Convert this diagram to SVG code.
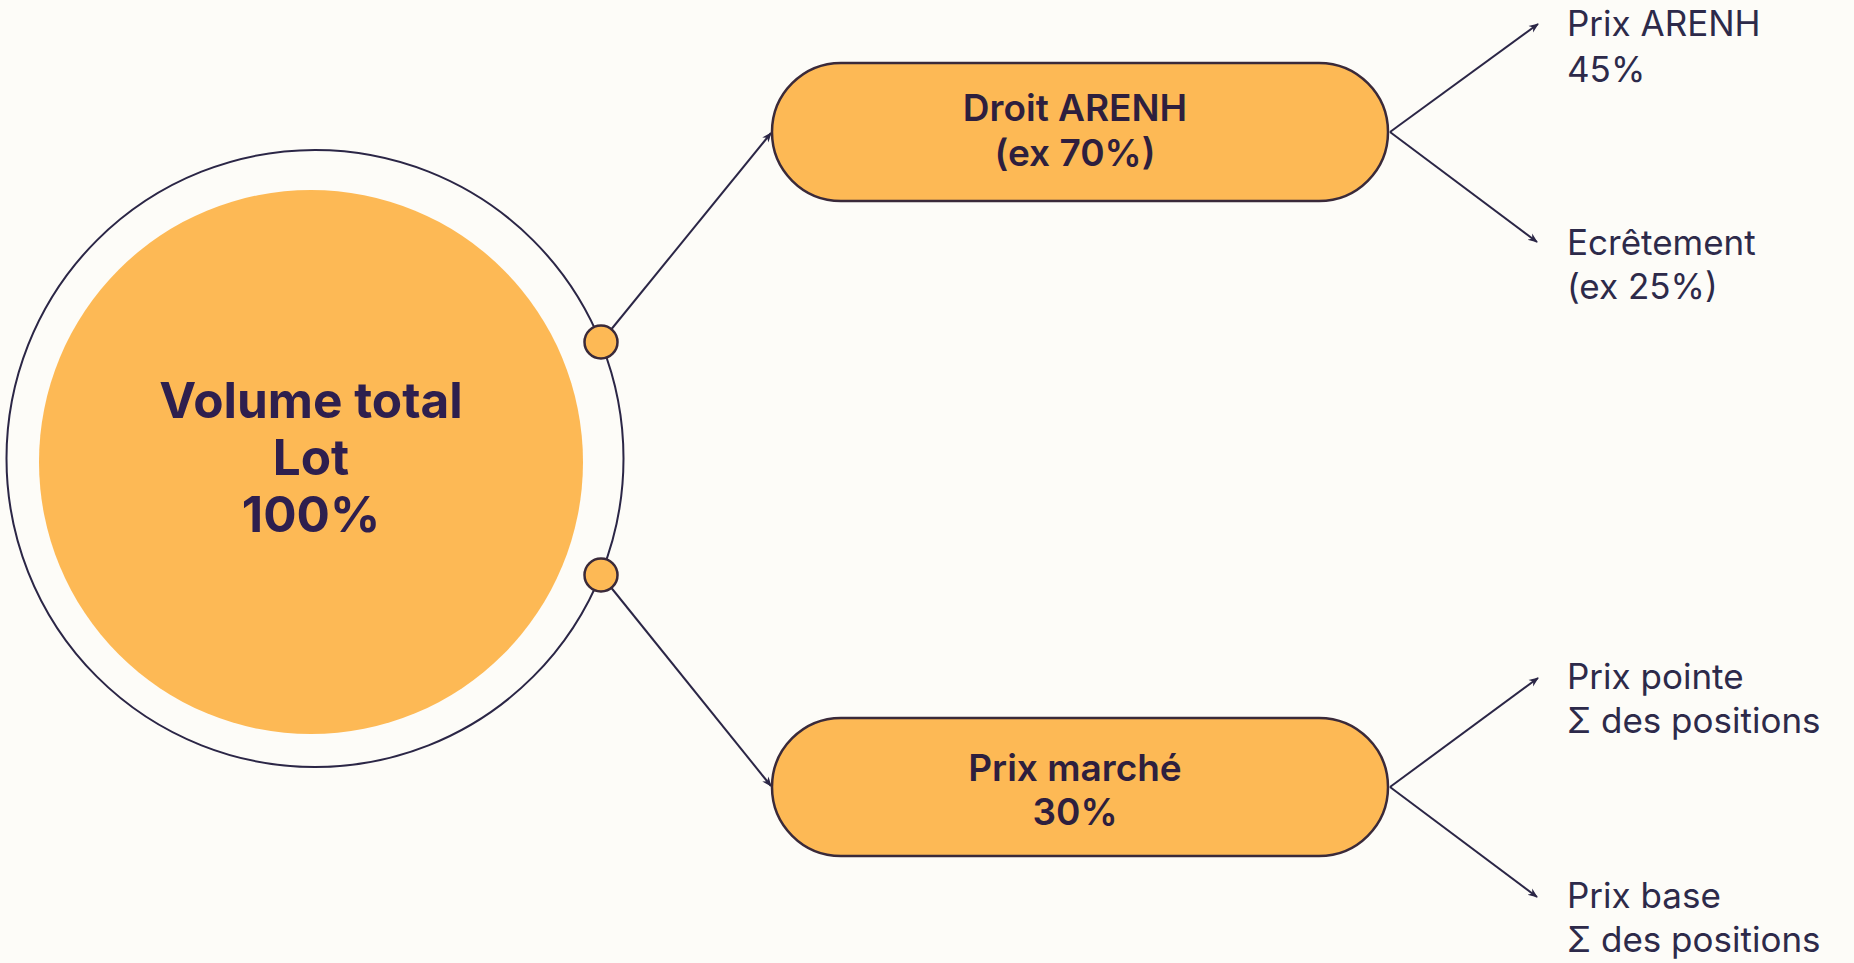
<svg xmlns="http://www.w3.org/2000/svg" width="1854" height="963" viewBox="0 0 1854 963">
  <style>
    .bg { fill: #fdfcf8; }
    .ring { fill: none; stroke: #2b2646; stroke-width: 2; }
    .fill { fill: #fdb955; }
    .pill { fill: #fdb955; stroke: #3a2a3a; stroke-width: 2.5; }
    .dot { fill: #fdb955; stroke: #3a2a3a; stroke-width: 2.5; }
    .conn { fill: none; stroke: #2b2646; stroke-width: 2; }
    .big { font-family: Inter, "Liberation Sans", sans-serif; font-weight: 700; font-size: 49.5px; fill: #2e1f4e; text-anchor: middle; }
    .mid { font-family: Inter, "Liberation Sans", sans-serif; font-weight: 600; font-size: 37px; fill: #2e1f3e; text-anchor: middle; }
    .lbl { font-family: Inter, "Liberation Sans", sans-serif; font-weight: 400; font-size: 35px; fill: #2d2a4a; }
  </style>
  <defs>
    <marker id="arr" viewBox="0 0 10 10" refX="9" refY="5" markerWidth="5" markerHeight="5" markerUnits="strokeWidth" orient="auto">
      <path d="M0,1 L10,5 L0,9 L3,5 Z" fill="#2b2646"/>
    </marker>
  </defs>
  <rect class="bg" x="0" y="0" width="1854" height="963"/>

  <g id="connectors">
    <line class="conn" x1="601" y1="342" x2="771" y2="133" marker-end="url(#arr)"/>
    <line class="conn" x1="601" y1="575" x2="771" y2="786" marker-end="url(#arr)"/>
    <line class="conn" x1="1390" y1="132" x2="1538" y2="24" marker-end="url(#arr)"/>
    <line class="conn" x1="1390" y1="132" x2="1537" y2="242" marker-end="url(#arr)"/>
    <line class="conn" x1="1390" y1="787" x2="1538" y2="678" marker-end="url(#arr)"/>
    <line class="conn" x1="1390" y1="787" x2="1537" y2="897" marker-end="url(#arr)"/>
  </g>

  <g id="node-volume">
    <circle class="ring" cx="315" cy="458.5" r="308.5"/>
    <circle class="fill" cx="311" cy="462" r="272"/>
    <circle class="dot" cx="601" cy="342" r="16.5"/>
    <circle class="dot" cx="601" cy="575" r="16.5"/>
    <text class="big" x="311" y="418">Volume total</text>
    <text class="big" x="311" y="475">Lot</text>
    <text class="big" x="311" y="532">100%</text>
  </g>

  <g id="node-droit">
    <rect class="pill" x="772" y="63" width="616" height="138" rx="69" ry="69"/>
    <text class="mid" x="1075" y="121">Droit ARENH</text>
    <text class="mid" x="1075" y="166">(ex 70%)</text>
  </g>

  <g id="node-marche">
    <rect class="pill" x="772" y="718" width="616" height="138" rx="69" ry="69"/>
    <text class="mid" x="1075" y="781">Prix marché</text>
    <text class="mid" x="1075" y="825">30%</text>
  </g>

  <g id="node-prix-arenh">
    <text class="lbl" x="1567" y="36">Prix ARENH</text>
    <text class="lbl" x="1567" y="82">45%</text>
  </g>
  <g id="node-ecretement">
    <text class="lbl" x="1567" y="255">Ecrêtement</text>
    <text class="lbl" x="1567" y="299">(ex 25%)</text>
  </g>
  <g id="node-prix-pointe">
    <text class="lbl" x="1567" y="689">Prix pointe</text>
    <text class="lbl" x="1567" y="733">Σ des positions</text>
  </g>
  <g id="node-prix-base">
    <text class="lbl" x="1567" y="908">Prix base</text>
    <text class="lbl" x="1567" y="952">Σ des positions</text>
  </g>
</svg>
